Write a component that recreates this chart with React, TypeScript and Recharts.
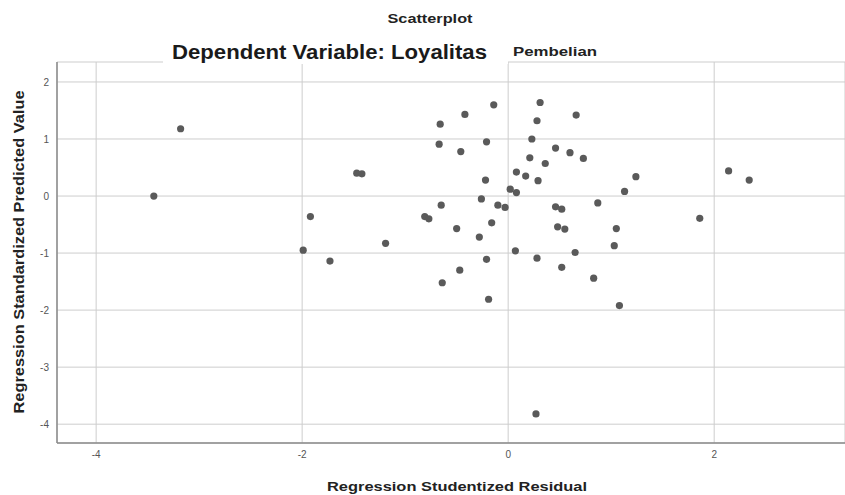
import React from "react";
import { ScatterChart, Scatter, XAxis, YAxis, CartesianGrid } from "recharts";

const studentizedResidual = [
  -3.18, -3.44, -0.14, 0.31, -0.42, 0.66, -0.66, 0.28, -0.67, -0.21,
  -0.46, 0.23, 0.46, 0.6, 0.73, 0.21, 0.36, -1.47, -1.42, 0.08,
  0.17, 0.29, -0.22, 0.02, 0.08, -0.26, -0.65, -0.1, -0.03, 0.46,
  0.52, -1.92, -0.81, -0.77, -0.16, -0.5, 0.48, 0.55, -0.28, -1.19,
  -1.99, 0.07, 0.65, -1.73, -0.21, 0.28, 0.52, -0.47, 1.13, 1.24,
  0.87, 1.05, 1.03, 0.83, -0.64, -0.19, 1.08, 2.14, 2.34, 1.86, 0.27,
];
const standardizedPredicted = [
  1.18, 0.0, 1.6, 1.64, 1.43, 1.42, 1.26, 1.32, 0.91, 0.95,
  0.78, 1.0, 0.84, 0.76, 0.66, 0.67, 0.57, 0.4, 0.39, 0.42,
  0.35, 0.27, 0.28, 0.12, 0.06, -0.05, -0.16, -0.16, -0.2, -0.19,
  -0.23, -0.36, -0.36, -0.4, -0.47, -0.57, -0.54, -0.58, -0.72, -0.83,
  -0.95, -0.96, -0.99, -1.14, -1.11, -1.09, -1.25, -1.3, 0.08, 0.34,
  -0.12, -0.57, -0.87, -1.44, -1.52, -1.81, -1.92, 0.44, 0.28, -0.39, -3.82,
];
const xTicks = [-4, -2, 0, 2];
const yTicks = [-4, -3, -2, -1, 0, 1, 2];

const chartTitle = "Scatterplot";
const subtitleCover = "Dependent Variable: Loyalitas";
const subtitleTail = "Pembelian";
const xTitle = "Regression Studentized Residual";
const yTitle = "Regression Standardized Predicted Value";

const data = studentizedResidual.map((x, i) => ({ x, y: standardizedPredicted[i] }));

const FONT = "'Liberation Sans', Arial, sans-serif";

export default function App() {
  return (
    <div style={{ position: "absolute", left: 0, top: 0, width: 845, height: 495, background: "#fff", fontFamily: FONT }}>
      <ScatterChart width={845} height={495} margin={{ top: 62, right: 0, bottom: 22, left: 0 }}>
        <CartesianGrid stroke="#cdcdcd" strokeWidth={1} />
        <XAxis
          type="number"
          dataKey="x"
          domain={[-4.38, 3.27]}
          ticks={xTicks}
          allowDataOverflow
          height={30}
          tickLine={false}
          axisLine={{ stroke: "#8a8a8a", strokeWidth: 1.5 }}
          tick={{ fill: "#555", fontSize: 10, fontFamily: FONT }}
        />
        <YAxis
          type="number"
          dataKey="y"
          domain={[-4.33, 2.35]}
          ticks={yTicks}
          allowDataOverflow
          width={57}
          tickLine={false}
          axisLine={{ stroke: "#8a8a8a", strokeWidth: 1.5 }}
          tick={{ fill: "#555", fontSize: 10, fontFamily: FONT }}
        />
        <Scatter data={data} fill="#595959" isAnimationActive={false} shape={(p: any) => <circle cx={p.cx} cy={p.cy} r={3.6} fill="#5a5a5a" />} />
      </ScatterChart>
      <svg width={845} height={495} style={{ position: "absolute", left: 0, top: 0, pointerEvents: "none" }}>
        <text x={430} y={23} textAnchor="middle" fontFamily={FONT} fontWeight="bold" fontSize={12} fill="#222" textLength={85} lengthAdjust="spacingAndGlyphs">
          {chartTitle}
        </text>
        <rect x={163} y={34} width={345} height={30} fill="#fff" />
        <text x={172} y={59} fontFamily={FONT} fontWeight="bold" fontSize={20} fill="#1a1a1a" textLength={315} lengthAdjust="spacingAndGlyphs">
          {subtitleCover}
        </text>
        <text x={513} y={56} fontFamily={FONT} fontWeight="bold" fontSize={12} fill="#222" textLength={84} lengthAdjust="spacingAndGlyphs">
          {subtitleTail}
        </text>
        <text x={457} y={491} textAnchor="middle" fontFamily={FONT} fontWeight="bold" fontSize={13} fill="#222" textLength={260} lengthAdjust="spacingAndGlyphs">
          {xTitle}
        </text>
        <text x={0} y={0} transform="translate(24,252) rotate(-90)" textAnchor="middle" fontFamily={FONT} fontWeight="bold" fontSize={14} fill="#222" textLength={323} lengthAdjust="spacingAndGlyphs">
          {yTitle}
        </text>
      </svg>
    </div>
  );
}
